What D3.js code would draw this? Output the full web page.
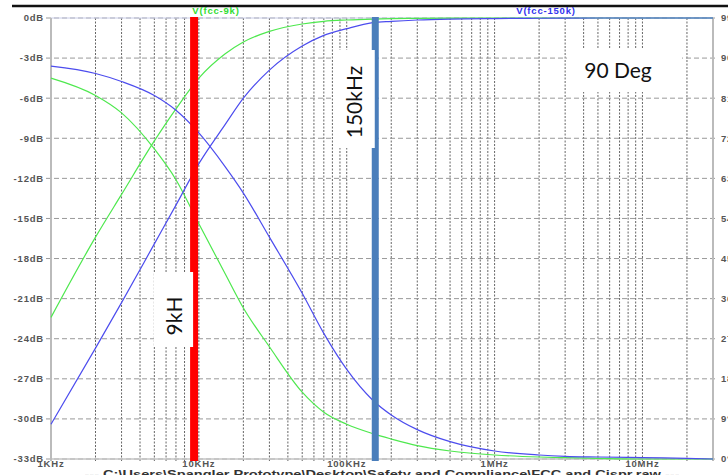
<!DOCTYPE html>
<html>
<head>
<meta charset="utf-8">
<script src="https://cdn.jsdelivr.net/npm/d3@7"></script>
<style>
  body { margin: 0; background: #fff; }
  svg { display: block; }
  .lbl { font-family: "Liberation Sans", Arial, sans-serif; font-size: 9.5px; font-weight: bold; fill: #555; letter-spacing: 0.8px; }
  .note { font-family: Lato, "Open Sans", sans-serif; font-size: 21px; fill: #111; }
</style>
</head>
<body>
<div id="chart"></div>
<script>
// frequencies (Hz) the curves were read at
var freqs = [1e3, 2e3, 3e3, 5e3, 7e3, 1e4, 1.5e4, 2e4, 3e4, 5e4, 7e4, 1e5, 1.5e5,
    2e5, 3e5, 5e5, 1e6, 2e6, 3e6, 5e6, 1e7, 2e7, 3e7];

// V(fcc-9k), green
var green9kLow = [-4.5, -5.8, -7.1, -9.8, -12.1, -15.4, -19.1, -21.7, -24.6, -28.0, -29.5, -30.4, -31.1,
    -31.5, -32.0, -32.4, -32.7, -32.85, -32.9, -32.95, -33, -33, -33];
var green9kHigh = [-22.4, -16.4, -13.2, -9.2, -6.8, -4.5, -2.7, -1.8, -1.0, -0.45, -0.25, -0.15, -0.08,
    -0.05, -0.03, -0.01, 0, 0, 0, 0, 0, 0, 0];

// V(fcc-150k), blue
var blue150kLow = [-3.6, -4.15, -4.75, -5.8, -6.9, -8.6, -11.1, -13.1, -16.4, -20.6, -23.6, -26.3, -28.6,
    -29.7, -30.8, -31.7, -32.4, -32.7, -32.8, -32.85, -32.9, -32.95, -33];
var blue150kHigh = [-30.4, -24.7, -21.3, -16.9, -14.0, -10.9, -8.0, -6.0, -3.9, -2.1, -1.3, -0.8, -0.35,
    -0.25, -0.15, -0.08, -0.04, -0.02, -0.01, 0, 0, 0, 0];

var dbTicks = d3.range(-33, 1, 3);
var degTicks = d3.range(0, 100, 9);
var decades = [1e3, 1e4, 1e5, 1e6, 1e7];
var decadeLabels = ["1KHz", "10KHz", "100KHz", "1MHz", "10MHz"];
var markers = [9e3, 1.5e5];

var svgWidth = 728, svgHeight = 475;
var margin = { top: 18, left: 51, right: 15, bottom: 16 };

var x = d3.scaleLog().domain([1e3, 3e7]).range([margin.left, svgWidth - margin.right]);
var y = d3.scaleLinear().domain([-33, 0]).range([svgHeight - margin.bottom, margin.top]);
var y2 = d3.scaleLinear().domain([0, 99]).range(y.range());

var svg = d3.select("#chart").append("svg")
    .attr("width", svgWidth)
    .attr("height", svgHeight);

// heavy rule at the very top
svg.append("line")
    .attr("x1", 12).attr("x2", svgWidth)
    .attr("y1", 6).attr("y2", 6)
    .attr("stroke", "#111").attr("stroke-width", 2.5);

// vertical minor grid (2..9 of each decade plus decades)
var vTicks = [];
for (var d = 1e3; d < 3e7; d *= 10) {
    for (var k = 1; k < 10; k++) {
        var f = d * k;
        if (f > 1e3 && f < 3e7) vTicks.push(f);
    }
}
svg.append("g").selectAll("line")
    .data(vTicks)
    .enter().append("line")
    .attr("x1", f => x(f)).attr("x2", f => x(f))
    .attr("y1", y(0)).attr("y2", y(-33) + 2)
    .attr("stroke", "#666")
    .attr("stroke-dasharray", "2,1.5");

// horizontal dashed grid
svg.append("g").selectAll("line")
    .data(dbTicks)
    .enter().append("line")
    .attr("x1", margin.left - 5).attr("x2", svgWidth - margin.right + 4)
    .attr("y1", d => y(d)).attr("y2", d => y(d))
    .attr("stroke", "#999")
    .attr("stroke-dasharray", "5,3");

// frame
svg.append("line").attr("x1", x(1e3)).attr("x2", x(3e7)).attr("y1", y(0)).attr("y2", y(0))
    .attr("stroke", "#c8cce8");
svg.append("line").attr("x1", x(1e3)).attr("x2", x(3e7)).attr("y1", y(-33)).attr("y2", y(-33))
    .attr("stroke", "#c4c4c4").attr("stroke-width", 1.5);
svg.append("line").attr("x1", x(1e3)).attr("x2", x(1e3)).attr("y1", y(0)).attr("y2", y(-33) + 2)
    .attr("stroke", "#bbb").attr("stroke-width", 2);
svg.append("line").attr("x1", x(3e7)).attr("x2", x(3e7)).attr("y1", y(0)).attr("y2", y(-33) + 2)
    .attr("stroke", "#bbb").attr("stroke-width", 2);

// left axis labels
svg.append("g").selectAll("text")
    .data(dbTicks)
    .enter().append("text")
    .attr("class", "lbl")
    .attr("x", margin.left - 7)
    .attr("y", d => y(d))
    .attr("dy", "0.35em")
    .attr("text-anchor", "end")
    .text(d => d + "dB");

// right axis labels (clipped by page edge)
svg.append("g").selectAll("text")
    .data(degTicks)
    .enter().append("text")
    .attr("class", "lbl")
    .attr("x", svgWidth - 7)
    .attr("y", d => y2(d))
    .attr("dy", "0.35em")
    .text(d => d + "\u00b0");

// bottom axis labels
svg.append("g").selectAll("text")
    .data(decades)
    .enter().append("text")
    .attr("class", "lbl")
    .attr("x", d => x(d))
    .attr("y", y(-33) + 8)
    .attr("text-anchor", "middle")
    .text((d, i) => decadeLabels[i]);

// trace titles
svg.append("text").attr("class", "lbl")
    .attr("x", 216).attr("y", 14).attr("text-anchor", "middle")
    .style("fill", "#33dd33").text("V(fcc-9k)");
svg.append("text").attr("class", "lbl")
    .attr("x", 546).attr("y", 14).attr("text-anchor", "middle")
    .style("fill", "#3333ee").text("V(fcc-150k)");

// footer
svg.append("text").attr("class", "lbl")
    .attr("x", 382).attr("y", 478).attr("text-anchor", "middle")
    .attr("textLength", 595).attr("lengthAdjust", "spacingAndGlyphs")
    .style("font-size", "11px").style("fill", "#333").style("letter-spacing", "0px")
    .text("--- C:\\Users\\Spangler Prototype\\Desktop\\Safety and Compliance\\FCC and Cispr.raw ---");

// traces
var line = d3.line()
    .curve(d3.curveMonotoneX)
    .x((d, i) => x(freqs[i]))
    .y(d => y(d));

var traces = [
    { v: green9kLow, c: "#4ee84e" },
    { v: green9kHigh, c: "#4ee84e" },
    { v: blue150kLow, c: "#4c4cee" },
    { v: blue150kHigh, c: "#4c4cee" }
];
svg.append("g").selectAll("path")
    .data(traces)
    .enter().append("path")
    .attr("d", t => line(t.v))
    .attr("fill", "none")
    .attr("stroke", t => t.c)
    .attr("stroke-width", 1.2);

// marker bars at 9kHz and 150kHz
svg.append("rect")
    .attr("x", x(markers[0]) - 2).attr("width", 8)
    .attr("y", y(0) - 1).attr("height", y(-33) - y(0) + 3)
    .attr("fill", "#ff0000");
svg.append("rect")
    .attr("x", x(markers[1]) - 1).attr("width", 7)
    .attr("y", y(0) - 1).attr("height", y(-33) - y(0) + 3)
    .attr("fill", "#4a7ebb");

// annotation boxes
function note(cx, cy, bx, by, bw, bh, txt, rot) {
    svg.append("rect").attr("x", bx).attr("y", by).attr("width", bw).attr("height", bh)
        .attr("fill", "#fff");
    var t = svg.append("text").attr("class", "note")
        .attr("text-anchor", "middle")
        .attr("dy", "0.35em")
        .text(txt);
    if (rot) t.attr("transform", "translate(" + cx + "," + cy + ") rotate(-90)");
    else t.attr("x", cx).attr("y", cy);
}
note(175, 316, 154, 272, x(markers[0]) + 1 - 154, 75, "9kH", true);
note(355, 102, 334, 50, x(markers[1]) + 2 - 334, 98, "150kHz", true);
note(618, 71, 567, 48, 115, 44, "90 Deg", false);
</script>
</body>
</html>
